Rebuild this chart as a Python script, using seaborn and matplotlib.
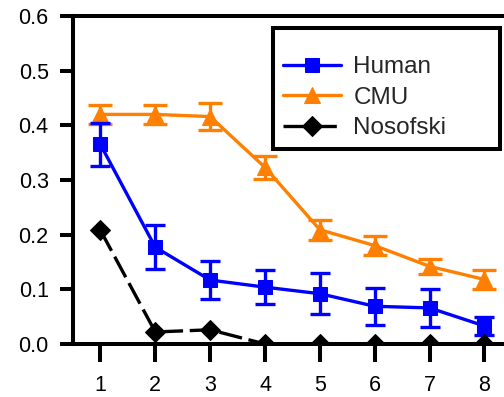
import matplotlib
matplotlib.use("Agg")
import matplotlib.pyplot as plt
import seaborn as sns
import pandas as pd

x = [1, 2, 3, 4, 5, 6, 7, 8]
human = [0.365, 0.177, 0.117, 0.104, 0.092, 0.069, 0.066, 0.033]
human_err = [0.039, 0.040, 0.035, 0.031, 0.037, 0.034, 0.035, 0.016]
cmu = [0.420, 0.420, 0.416, 0.323, 0.209, 0.180, 0.142, 0.118]
cmu_err = [0.018, 0.018, 0.024, 0.021, 0.018, 0.017, 0.014, 0.017]
nosofski = [0.208, 0.022, 0.026, 0.0, 0.0, 0.0, 0.0, 0.0]
yticks = [0.0, 0.1, 0.2, 0.3, 0.4, 0.5, 0.6]

sns.set_style("ticks")
plt.rcParams["font.family"] = ["Liberation Sans", "DejaVu Sans"]

fig = plt.figure(figsize=(5.04, 3.97), dpi=100)
ax = fig.add_axes([73/504, 53/397, 438.9/504, 328/397])

blue = "#0000FF"
orange = "#FF8000"

df_h = pd.DataFrame({"x": x, "y": human})
df_c = pd.DataFrame({"x": x, "y": cmu})
df_n = pd.DataFrame({"x": x, "y": nosofski})

sns.lineplot(data=df_h, x="x", y="y", ax=ax, color=blue, lw=2.4, marker="s",
             markersize=10.5, markeredgecolor=blue, label="Human", zorder=4)
sns.lineplot(data=df_c, x="x", y="y", ax=ax, color=orange, lw=2.4, marker="^",
             markersize=12, markeredgecolor=orange, label="CMU", zorder=3)
sns.lineplot(data=df_n, x="x", y="y", ax=ax, color="black", lw=2.4, marker="D",
             markersize=10.5, markeredgecolor="black", label="Nosofski", zorder=5)
ax.lines[-1].set_linestyle((0, (7, 2)))

ax.errorbar(x, human, yerr=human_err, fmt="none", ecolor=blue, elinewidth=2.4,
            capsize=7.5, capthick=2.4, zorder=4)
ax.errorbar(x, cmu, yerr=cmu_err, fmt="none", ecolor=orange, elinewidth=2.4,
            capsize=8.3, capthick=2.4, zorder=3)

ax.set_xlim(0.5, 8.5)
ax.set_ylim(0, 0.6)
ax.set_xticks(x)
ax.set_yticks(yticks)
ax.set_yticklabels([f"{v:.1f}" for v in yticks])
ax.set_xlabel("")
ax.set_ylabel("")

for s in ["left", "top", "bottom", "right"]:
    ax.spines[s].set_linewidth(2.9)
    ax.spines[s].set_color("black")
ax.spines["bottom"].set_zorder(6)

ax.tick_params(axis="y", direction="out", length=9.5, width=2.9, pad=8, labelsize=15.5, colors="black")
ax.tick_params(axis="x", direction="out", length=13, width=2.9, pad=9.5, labelsize=15.5, colors="black")

leg = ax.legend(loc="upper left", bbox_to_anchor=(0.456, 0.0, 0.517, 0.963), mode="expand",
                borderaxespad=0, fontsize=17.5, handlelength=2.4, labelspacing=0.35,
                borderpad=0.4, handletextpad=0.5, fancybox=False, framealpha=1,
                edgecolor="black", title=" ", title_fontsize=7)
leg.get_frame().set_linewidth(2.9)

fig.savefig("out.png", dpi=100)
